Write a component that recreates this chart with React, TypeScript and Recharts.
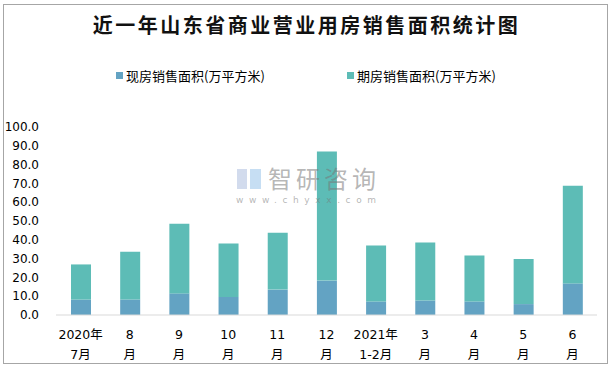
import React from 'react';
import { BarChart, Bar, XAxis, YAxis, Legend } from 'recharts';

const categories = ['2020年\n7月', '8\n月', '9\n月', '10\n月', '11\n月', '12\n月', '2021年\n1-2月', '3\n月', '4\n月', '5\n月', '6\n月'];
const spotArea = [8.2, 8.2, 11.5, 9.6, 13.5, 18.3, 7.2, 7.7, 7.2, 5.8, 16.8];
const forwardArea = [18.7, 25.5, 37.1, 28.4, 30.2, 68.7, 29.8, 30.8, 24.5, 24.0, 52.0];
const yTicks = [0, 10, 20, 30, 40, 50, 60, 70, 80, 90, 100];
const seriesNames = ['现房销售面积(万平方米)', '期房销售面积(万平方米)'];
const title = '近一年山东省商业营业用房销售面积统计图';

const COLORS = ['#63A3C3', '#5DBCB6'];

const data = categories.map((c, i) => ({ cat: c, spot: spotArea[i], forward: forwardArea[i] }));

const XTick = (props: any) => {
  const { x, y, payload } = props;
  const lines = String(payload.value).split('\n');
  return (
    <g transform={`translate(${x},${y})`}>
      {lines.map((l, i) => (
        <text key={i} x={0} y={i * 20} dy={12} textAnchor="middle" fill="#000" fontSize={12.5}
          fontFamily="'DejaVu Sans', 'Noto Sans CJK SC', sans-serif">{l}</text>
      ))}
    </g>
  );
};

const LegendContent = () => (
  <div style={{ position: 'relative', width: 613, height: 20 }}>
    {seriesNames.map((n, i) => (
      <div key={n} style={{ position: 'absolute', left: i === 0 ? 116 : 347, top: 0, display: 'flex', alignItems: 'center',
        fontFamily: "'Noto Sans CJK SC', sans-serif", fontSize: 13, color: '#000', whiteSpace: 'nowrap' }}>
        <span style={{ display: 'inline-block', width: 7, height: 7, background: COLORS[i], marginRight: 3 }} />
        {n}
      </div>
    ))}
  </div>
);

export default function App() {
  return (
    <div style={{ position: 'absolute', left: 0, top: 0, width: 613, height: 367, background: '#fff' }}>
      <div style={{ position: 'absolute', left: 3, top: 4, width: 605, height: 360, border: '1px solid #a6a6a6', boxSizing: 'border-box' }} />
      <div style={{ position: 'absolute', left: 0, top: 10, width: 613, textAlign: 'center',
        fontFamily: "'Noto Sans CJK SC', sans-serif", fontWeight: 700, fontSize: 20, letterSpacing: 2.5, color: '#111' }}>{title}</div>
      <div style={{ position: 'absolute', left: 0, top: 0 }}>
        <BarChart width={613} height={367} data={data} margin={{ top: 107, right: 16, bottom: 0, left: 0 }} barSize={20}>
          <XAxis dataKey="cat" interval={0} tick={<XTick />} tickLine={false} axisLine={{ stroke: '#d9d9d9' }} height={52} tickMargin={6} />
          <YAxis domain={[0, 100]} ticks={yTicks} interval={0} width={56} tickLine={false} axisLine={false} tickSize={0} tickMargin={17}
            tickFormatter={(v: number) => v.toFixed(1)}
            tick={{ fill: '#000', fontSize: 12, fontFamily: "'DejaVu Sans', sans-serif" }} />
          <Legend verticalAlign="top" content={<LegendContent />} wrapperStyle={{ top: 66, left: 0, width: 613 }} />
          <Bar dataKey="spot" stackId="a" fill={COLORS[0]} name={seriesNames[0]} isAnimationActive={false} />
          <Bar dataKey="forward" stackId="a" fill={COLORS[1]} name={seriesNames[1]} isAnimationActive={false} />
        </BarChart>
      </div>
      <div style={{ position: 'absolute', left: 237, top: 166, pointerEvents: 'none' }}>
        <div style={{ position: 'absolute', left: 0, top: 3, width: 10, height: 20, background: 'rgba(180,195,225,0.6)' }} />
        <div style={{ position: 'absolute', left: 13, top: 3, width: 11, height: 20, background: 'rgba(160,200,235,0.6)' }} />
      </div>
      <div style={{ position: 'absolute', left: 268, top: 166, fontFamily: "'Noto Sans CJK SC', sans-serif", fontSize: 24, lineHeight: '24px',
        color: 'rgba(120,120,120,0.55)', letterSpacing: 4, whiteSpace: 'nowrap', pointerEvents: 'none' }}>智研咨询</div>
      <div style={{ position: 'absolute', left: 236, top: 196, fontFamily: "'DejaVu Sans', sans-serif", fontSize: 9, lineHeight: '9px',
        color: 'rgba(120,120,120,0.55)', letterSpacing: 5.6, whiteSpace: 'nowrap', pointerEvents: 'none' }}>www.chyxx.com</div>
    </div>
  );
}
